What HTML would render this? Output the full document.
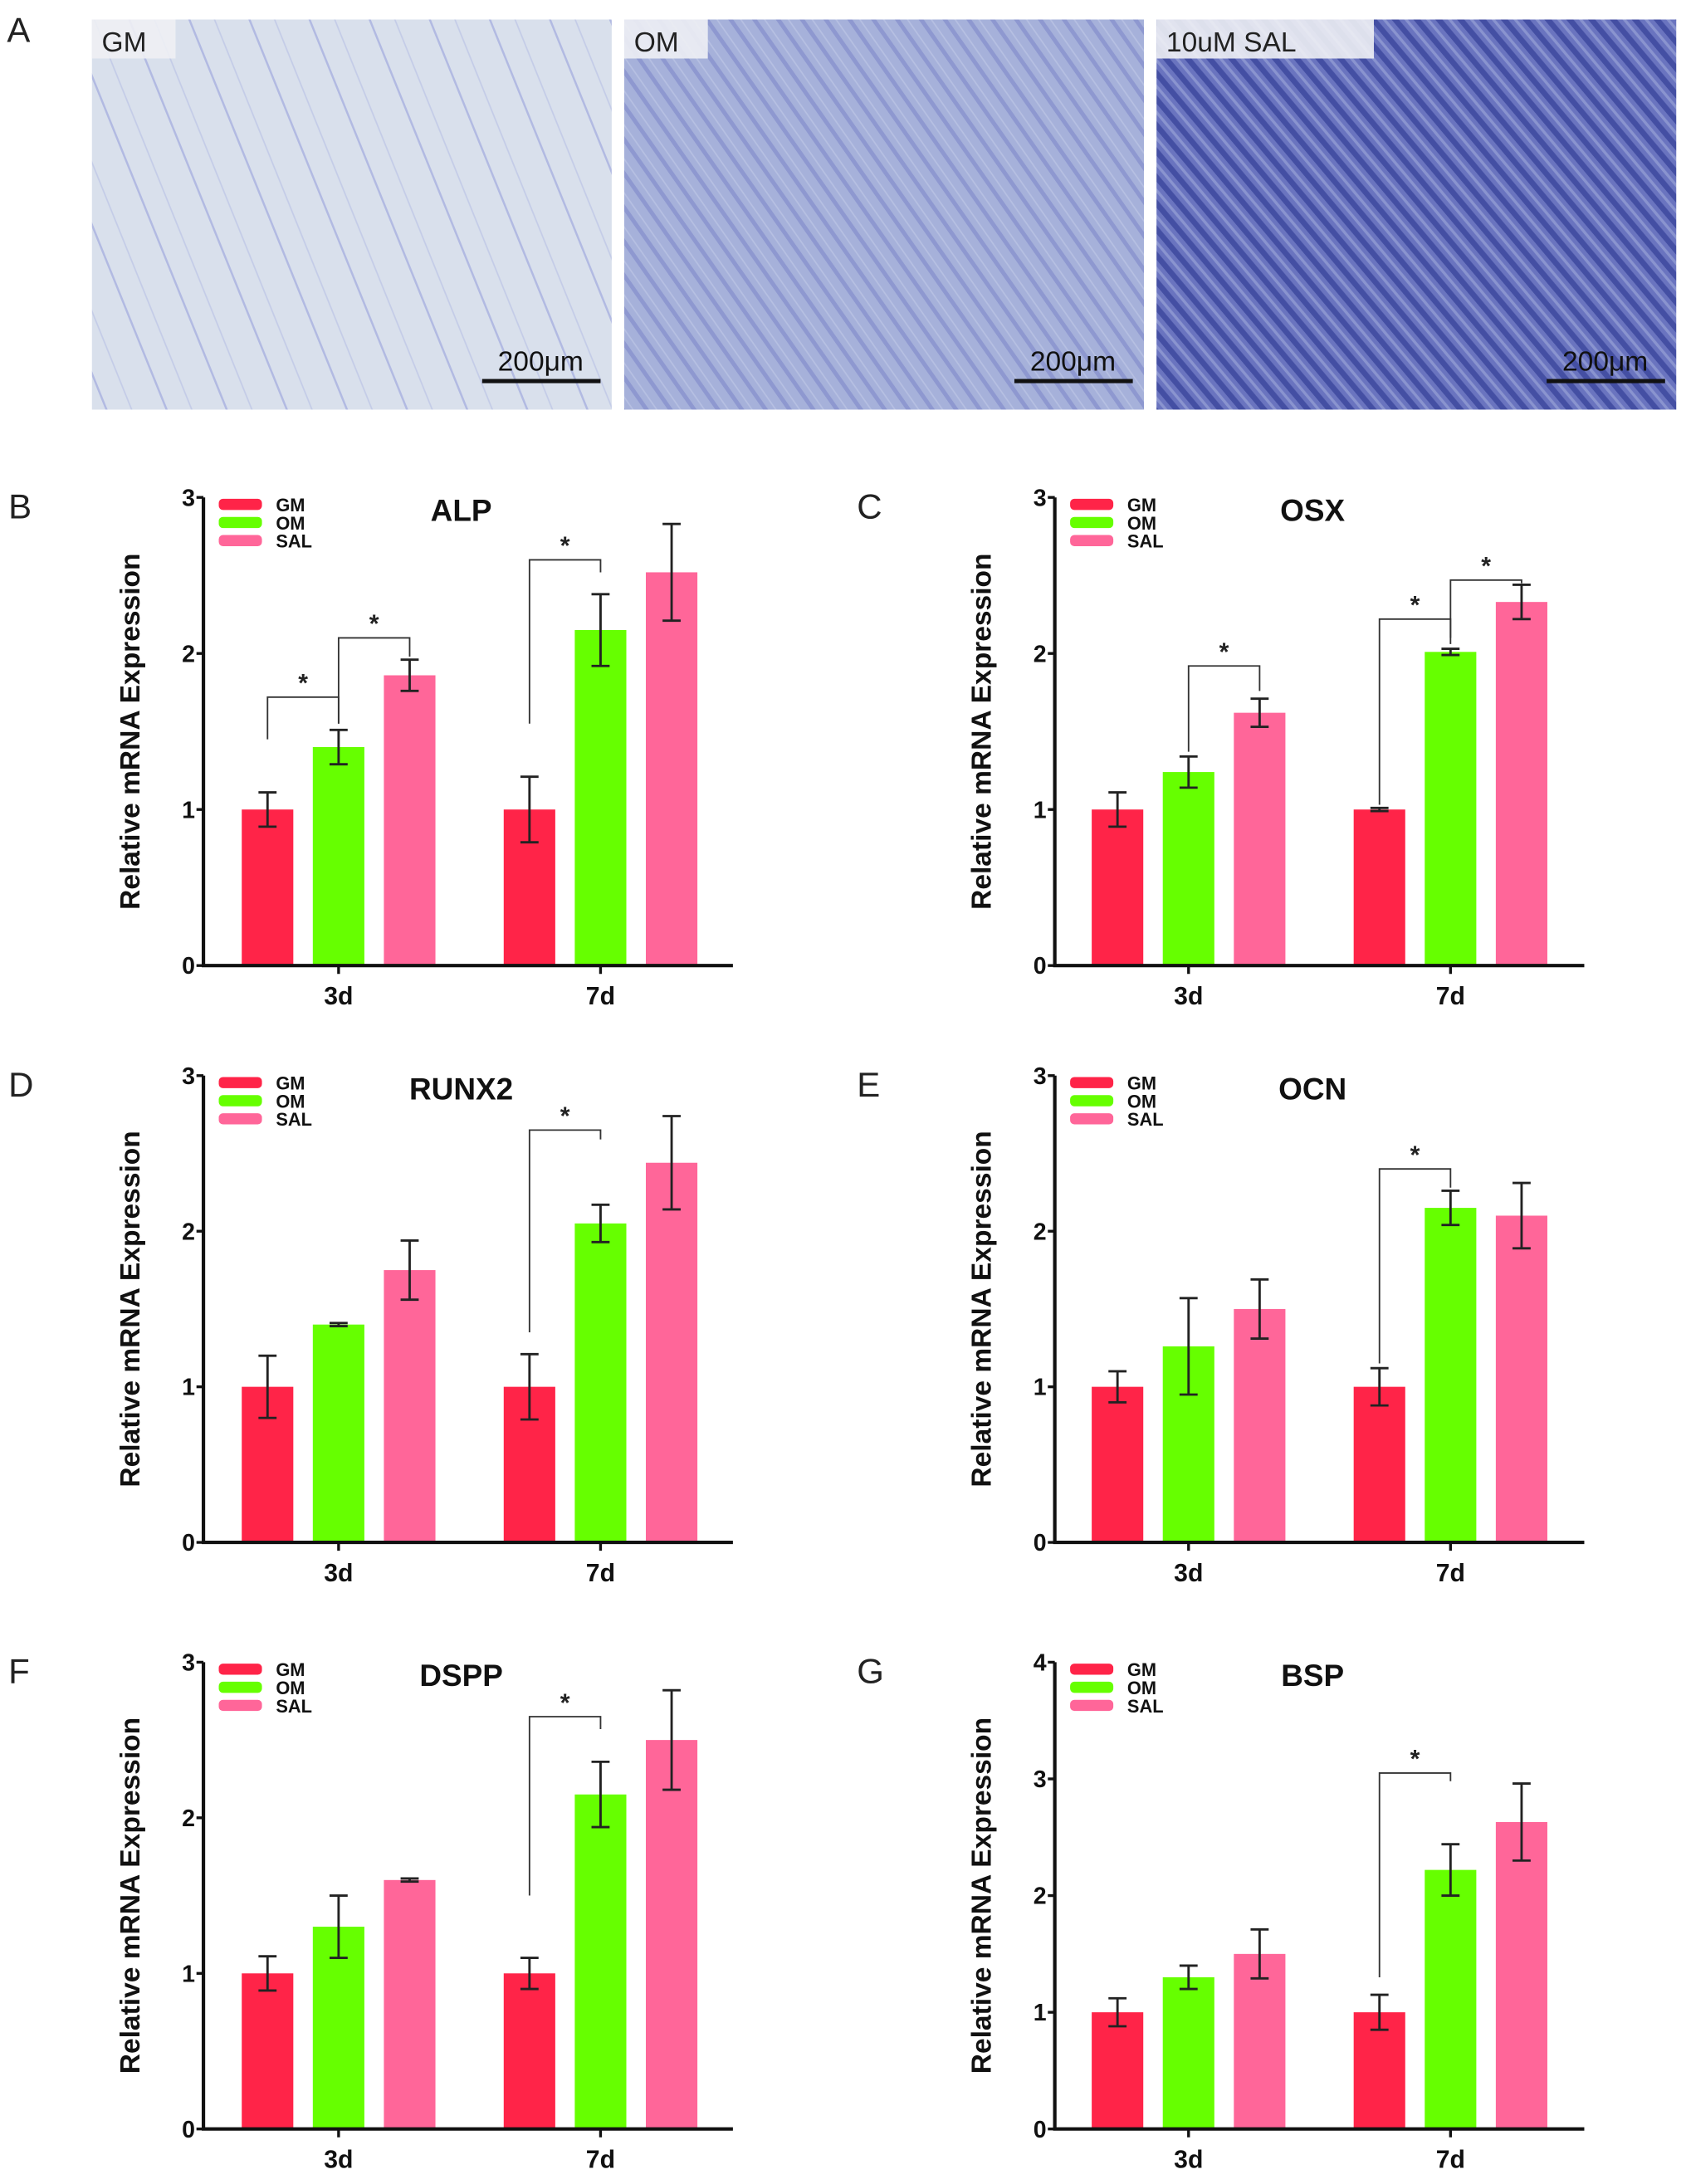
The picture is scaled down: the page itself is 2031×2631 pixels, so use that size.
<!DOCTYPE html>
<html><head><meta charset="utf-8">
<style>
html,body{margin:0;padding:0;background:#fff;}
svg{display:block;}
text{font-family:"Liberation Sans",Arial,sans-serif;}
</style></head>
<body>
<svg id="fig" width="2031" height="2631" viewBox="0 0 1210 1567.5" preserveAspectRatio="none" xmlns="http://www.w3.org/2000/svg">
<defs>
<pattern id="p1" width="40" height="40" patternUnits="userSpaceOnUse" patternTransform="rotate(-22)">
<rect width="40" height="40" fill="#d9e0ec"/><rect x="0" y="0" width="1.5" height="40" fill="#8b93d8" opacity="0.5"/><rect x="17" y="0" width="1" height="40" fill="#9aa2dc" opacity="0.35"/>
</pattern>
<pattern id="p2" width="14" height="14" patternUnits="userSpaceOnUse" patternTransform="rotate(-35)">
<rect width="14" height="14" fill="#a6b1da"/><rect x="0" y="0" width="3" height="14" fill="#7580c6" opacity="0.5"/><rect x="7" y="0" width="1" height="14" fill="#c8d0ea" opacity="0.5"/>
</pattern>
<pattern id="p3" width="12" height="12" patternUnits="userSpaceOnUse" patternTransform="rotate(-40)">
<rect width="12" height="12" fill="#6a74bf"/><rect x="0" y="0" width="4" height="12" fill="#343f98" opacity="0.7"/><rect x="7" y="0" width="2" height="12" fill="#aab3e0" opacity="0.5"/>
</pattern>
</defs>
<g id="panelA"></g>
<g id="charts"></g>
</svg>
<script>
const NS="http://www.w3.org/2000/svg";
function mk(parent,tag,attrs,txt){const e=document.createElementNS(NS,tag);for(const k in attrs)e.setAttribute(k,attrs[k]);if(txt!==undefined)e.textContent=txt;parent.appendChild(e);return e;}

// ---- Panel A micrographs ----
const photoLabels=["GM","OM","10uM SAL"];
const photoFills=["url(#p1)","url(#p2)","url(#p3)"];
const pa=document.getElementById('panelA');
let la=mk(pa,'text',{x:5,y:30,'font-size':25,fill:'#222'},'A');


photoLabels.forEach((lab,i)=>{
  const x0=66+i*382;
  const g=mk(pa,'g',{});
  
  
  mk(g,'rect',{x:x0,y:14,width:373,height:280,fill:photoFills[i]});
  mk(g,'rect',{x:x0,y:14,width:i==2?156:60,height:28,fill:'#eef0f4',opacity:0.9});
  const t=mk(g,'text',{x:x0+7,y:37,'font-size':20,fill:'#222'},lab);
  
  
  const s=mk(g,'text',{x:x0+322,y:266,'font-size':20,'text-anchor':'middle',fill:'#111'},'200μm');
  
  
  const b=mk(g,'rect',{x:x0+280,y:272,width:85,height:3,fill:'#111'});
  
  
});

// ---- Chart data ----
const groups=["3d","7d"];
const seriesNames=["GM","OM","SAL"];
const seriesColors=["#ff2448","#66ff00","#ff6699"];
const titles=["ALP","OSX","RUNX2","OCN","DSPP","BSP"];
const letters=["B","C","D","E","F","G"];
const yMaxes=[3,3,3,3,3,4];
const ALP_mean=[[1,1.40,1.86],[1,2.15,2.52]];
const ALP_err=[[0.11,0.11,0.10],[0.21,0.23,0.31]];
const OSX_mean=[[1,1.24,1.62],[1,2.01,2.33]];
const OSX_err=[[0.11,0.10,0.09],[0.01,0.02,0.11]];
const RUNX2_mean=[[1,1.40,1.75],[1,2.05,2.44]];
const RUNX2_err=[[0.20,0.01,0.19],[0.21,0.12,0.30]];
const OCN_mean=[[1,1.26,1.50],[1,2.15,2.10]];
const OCN_err=[[0.10,0.31,0.19],[0.12,0.11,0.21]];
const DSPP_mean=[[1,1.30,1.60],[1,2.15,2.50]];
const DSPP_err=[[0.11,0.20,0.01],[0.10,0.21,0.32]];
const BSP_mean=[[1,1.30,1.50],[1,2.22,2.63]];
const BSP_err=[[0.12,0.10,0.21],[0.15,0.22,0.33]];
// brackets: [group, barA, barB, topValue, leftBottom, rightBottom]
const ALP_sig=[[0,0,1,1.72,1.45,1.55],[0,1,2,2.10,1.55,1.98],[1,0,1,2.60,1.55,2.52]];
const OSX_sig=[[0,1,2,1.92,1.37,1.76],[1,0,1,2.22,1.03,2.06],[1,1,2,2.47,2.10,2.45]];
const RUNX2_sig=[[1,0,1,2.65,1.35,2.59]];
const OCN_sig=[[1,0,1,2.40,1.15,2.28]];
const DSPP_sig=[[1,0,1,2.65,1.50,2.57]];
const BSP_sig=[[1,0,1,3.05,1.30,2.98]];
const means=[ALP_mean,OSX_mean,RUNX2_mean,OCN_mean,DSPP_mean,BSP_mean];
const errs=[ALP_err,OSX_err,RUNX2_err,OCN_err,DSPP_err,BSP_err];
const sigs=[ALP_sig,OSX_sig,RUNX2_sig,OCN_sig,DSPP_sig,BSP_sig];

const charts=document.getElementById('charts');
for(let c=0;c<6;c++){
  const col=c%2,row=Math.floor(c/2);
  const ox=col?757:146;
  const off=col?96:97;
  const y0=[693,1107,1528][row];
  const yTop=[357,772,1193][row];
  const yMax=yMaxes[c];
  const Y=v=>y0-(v/yMax)*(y0-yTop);
  const gx=g=>ox+off+g*188;
  const bx=(g,i)=>gx(g)+(i-1)*51;
  const bw=37;
  const g=mk(charts,'g',{});
  
  
  const L=mk(g,'text',{x:ox-140+(col?-2:0),y:yTop+15,'font-size':25,fill:'#222'},letters[c]);
  
  
  for(let gi=0;gi<2;gi++)for(let i=0;i<3;i++){
    const v=means[c][gi][i],e=errs[c][gi][i],cx=bx(gi,i);
    const r=mk(g,'rect',{x:cx-bw/2,y:Y(v),width:bw,height:y0-Y(v),fill:seriesColors[i]});
    
    
    const eb=mk(g,'path',{d:`M${cx},${Y(v+e)}V${Y(v-e)}M${cx-6.5},${Y(v+e)}H${cx+6.5}M${cx-6.5},${Y(v-e)}H${cx+6.5}`,stroke:'#222','stroke-width':1.7,fill:'none'});
    
    
  }
  sigs[c].forEach(s=>{
    const xa=bx(s[0],s[1]),xb=bx(s[0],s[2]);
    const p=mk(g,'path',{d:`M${xa},${Y(s[4])}V${Y(s[3])}H${xb}V${Y(s[5])}`,stroke:'#333','stroke-width':1.1,fill:'none'});
    
    
    const st=mk(g,'text',{x:(xa+xb)/2,y:Y(s[3])-4,'font-size':18,'font-weight':'bold','text-anchor':'middle',fill:'#222'},'*');
    
    
  });
  const ax=mk(g,'path',{d:`M${ox},${yTop}V${y0}H${ox+380}`,stroke:'#111','stroke-width':2.5,fill:'none'});
  
  
  for(let t=0;t<=yMax;t++){
    mk(g,'path',{d:`M${ox-5},${Y(t)}H${ox}`,stroke:'#111','stroke-width':2});
    const tl=mk(g,'text',{x:ox-6,y:Y(t)+6,'font-size':17,'font-weight':'bold','text-anchor':'end',fill:'#111'},String(t));
    
    
  }
  groups.forEach((gn,gi)=>{
    mk(g,'path',{d:`M${gx(gi)},${y0}V${y0+6}`,stroke:'#111','stroke-width':2});
    const xl=mk(g,'text',{x:gx(gi),y:y0+28,'font-size':18,'font-weight':'bold','text-anchor':'middle',fill:'#111'},gn);
    
    
  });
  const yt=mk(g,'text',{x:0,y:0,'font-size':20,'font-weight':'bold','text-anchor':'middle',fill:'#111',transform:`translate(${ox-46},${(yTop+y0)/2}) rotate(-90)`},'Relative mRNA Expression');
  
  
  const tt=mk(g,'text',{x:ox+185,y:yTop+17,'font-size':22,'font-weight':'bold','text-anchor':'middle',fill:'#111'},titles[c]);
  
  
  seriesNames.forEach((sn,i)=>{
    const le=mk(g,'g',{});
    
    
    mk(le,'rect',{x:ox+11,y:yTop+1+i*13,width:31,height:8,rx:3,fill:seriesColors[i]});
    mk(le,'text',{x:ox+52,y:yTop+10+i*13,'font-size':13,'font-weight':'bold',fill:'#111'},sn);
  });
}
</script>
</body></html>
